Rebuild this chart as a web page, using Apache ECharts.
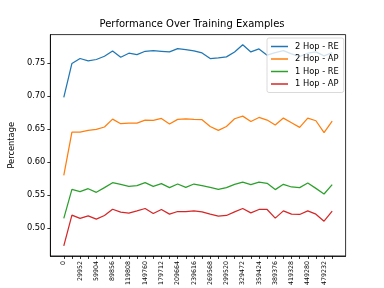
<!DOCTYPE html>
<html><head><meta charset="utf-8">
<script src="https://cdn.jsdelivr.net/npm/echarts@6/dist/echarts.min.js"></script>
<style>html,body{margin:0;padding:0;background:#fff}#c{width:384px;height:288px}</style>
</head><body><div id="c"></div>
<script>
const examples = [0, 14976, 29952, 44928, 59904, 74880, 89856, 104832, 119808, 134784, 149760, 164736, 179712, 194688, 209664, 224640, 239616, 254592, 269568, 284544, 299520, 314496, 329472, 344448, 359424, 374400, 389376, 404352, 419328, 434304, 449280, 464256, 479232, 494208];
const hop2RE = [0.698, 0.7495, 0.757, 0.7535, 0.7555, 0.7605, 0.7685, 0.759, 0.765, 0.763, 0.768, 0.769, 0.768, 0.767, 0.772, 0.7705, 0.7685, 0.7655, 0.757, 0.758, 0.7595, 0.767, 0.778, 0.767, 0.7715, 0.762, 0.766, 0.769, 0.764, 0.760, 0.765, 0.767, 0.761, 0.766];
const hop2AP = [0.580, 0.6456, 0.6456, 0.648, 0.6495, 0.6532, 0.6652, 0.6582, 0.6592, 0.6592, 0.6637, 0.6632, 0.6662, 0.6577, 0.6647, 0.6657, 0.6647, 0.6642, 0.654, 0.648, 0.654, 0.6657, 0.6697, 0.6616, 0.6677, 0.6637, 0.6562, 0.6667, 0.6596, 0.6526, 0.6667, 0.6627, 0.6446, 0.6622];
const hop1RE = [0.5146, 0.5587, 0.5552, 0.5597, 0.5542, 0.5613, 0.5688, 0.5663, 0.5633, 0.5643, 0.5688, 0.5633, 0.5673, 0.5613, 0.5668, 0.5617, 0.5668, 0.5645, 0.5617, 0.5587, 0.5613, 0.5663, 0.5697, 0.5658, 0.5697, 0.5678, 0.5583, 0.5663, 0.5623, 0.5613, 0.5683, 0.5602, 0.5517, 0.5658];
const hop1AP = [0.473, 0.5196, 0.5146, 0.5186, 0.5136, 0.5191, 0.5286, 0.5241, 0.5226, 0.5261, 0.5297, 0.5221, 0.5282, 0.5211, 0.5251, 0.5251, 0.5261, 0.5246, 0.5211, 0.5181, 0.5191, 0.5246, 0.5297, 0.5231, 0.5282, 0.5282, 0.5151, 0.5261, 0.5211, 0.5206, 0.5261, 0.5211, 0.5105, 0.5256];
const xTickLabels = [0, 29952, 59904, 89856, 119808, 149760, 179712, 209664, 239616, 269568, 299520, 329472, 359424, 389376, 419328, 449280, 479232];
const yTickLabels = [0.50, 0.55, 0.60, 0.65, 0.70, 0.75];
const seriesNames = ['2 Hop - RE', '2 Hop - AP', '1 Hop - RE', '1 Hop - AP'];
const colors = ['#1f77b4', '#ff7f0e', '#2ca02c', '#d62728'];

const all = [hop2RE, hop2AP, hop1RE, hop1AP];
const flat = all.flat();
const yMin0 = Math.min(...flat), yMax0 = Math.max(...flat);
const yPad = (yMax0 - yMin0) * 0.05;
const xPad = (examples[examples.length - 1] - examples[0]) * 0.05;
const font = 'DejaVu Sans';

const chart = echarts.init(document.getElementById('c'), null, {renderer: 'canvas'});
chart.setOption({
  animation: false,
  backgroundColor: '#fff',
  textStyle: {fontFamily: font},
  title: {
    text: 'Performance Over Training Examples',
    left: 'center', top: 14,
    textStyle: {fontFamily: font, fontSize: 10, fontWeight: 'normal', color: '#000'}
  },
  grid: {left: 48, right: 38.4, top: 34.6, bottom: 31.7, show: true, borderColor: '#000', borderWidth: 0.8, containLabel: false},
  legend: {
    data: seriesNames,
    orient: 'vertical',
    left: 267, top: 38,
    padding: [4, 5, 4, 4],
    itemGap: 3.5,
    itemWidth: 17, itemHeight: 1.5,
    icon: 'rect',
    backgroundColor: 'rgba(255,255,255,0.8)',
    borderColor: '#d0d0d0', borderWidth: 0.8, borderRadius: 2,
    textStyle: {fontFamily: font, fontSize: 8.3, color: '#000', padding: [0, 0, 0, 2], lineHeight: 9}
  },
  xAxis: {
    type: 'value',
    min: examples[0] - xPad, max: examples[examples.length - 1] + xPad,
    splitLine: {show: false},
    axisLine: {show: true, onZero: false, lineStyle: {color: '#000', width: 0.8}},
    axisTick: {show: true, length: 3, lineStyle: {color: '#000', width: 0.8}, customValues: examples},
    axisLabel: {
      customValues: xTickLabels, rotate: 90, margin: 5,
      fontFamily: font, fontSize: 6.3, color: '#000',
      formatter: v => String(v)
    }
  },
  yAxis: {
    type: 'value',
    min: yMin0 - yPad, max: yMax0 + yPad,
    name: 'Percentage', nameLocation: 'middle', nameGap: 28, nameRotate: 90,
    nameTextStyle: {fontFamily: font, fontSize: 8.3, color: '#000'},
    splitLine: {show: false},
    axisLine: {show: true, onZero: false, lineStyle: {color: '#000', width: 0.8}},
    axisTick: {show: true, length: 3, lineStyle: {color: '#000', width: 0.8}, customValues: yTickLabels},
    axisLabel: {customValues: yTickLabels, margin: 5, fontFamily: font, fontSize: 8.3, color: '#000', formatter: v => v.toFixed(2)}
  },
  series: all.map((arr, k) => ({
    name: seriesNames[k],
    type: 'line',
    data: examples.map((x, i) => [x, arr[i]]),
    showSymbol: false, symbol: 'none',
    lineStyle: {color: colors[k], width: 1.25},
    itemStyle: {color: colors[k]},
    z: 2 + k
  }))
});
</script></body></html>
